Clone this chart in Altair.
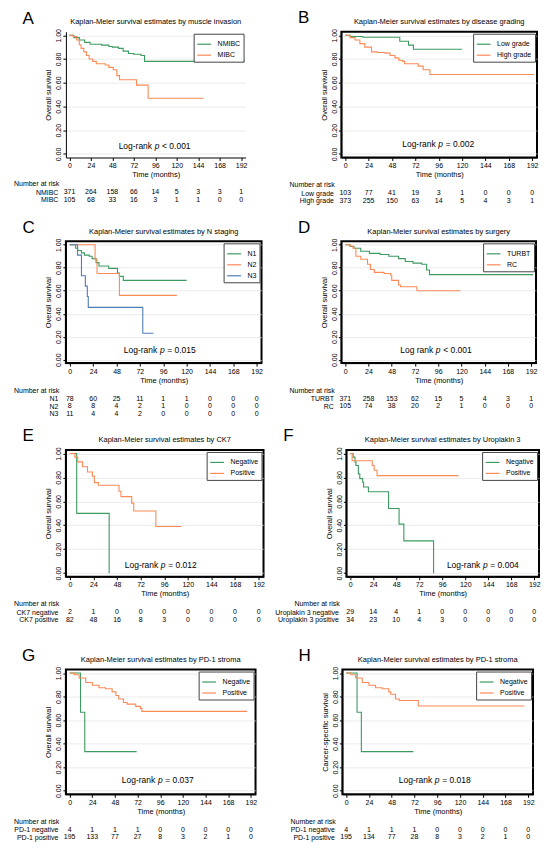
import altair as alt
import pandas as pd

FONT = "Liberation Sans"
GREEN = "#3d9a60"
ORANGE = "#fc8a57"
BLUE = "#4f7db6"
TICKS_X = [0, 24, 48, 72, 96, 120, 144, 168, 192]
TICKS_Y = [0.0, 0.2, 0.4, 0.6, 0.8, 1.0]

# ---------------- data ----------------
# A: muscle invasion
A_NMIBC_t = [0, 5, 11, 17, 23, 36, 44, 48, 55, 60, 66, 72, 80, 84, 196]
A_NMIBC_s = [1.0, 0.98, 0.96, 0.94, 0.925, 0.917, 0.905, 0.90, 0.89, 0.867, 0.847, 0.84, 0.83, 0.78, 0.78]
A_MIBC_t = [0, 4, 8, 11, 13, 16, 19, 22, 26, 30, 40, 44, 49, 53, 56, 75, 88, 150]
A_MIBC_s = [1.0, 0.99, 0.96, 0.92, 0.89, 0.86, 0.83, 0.80, 0.78, 0.76, 0.75, 0.73, 0.71, 0.66, 0.625, 0.58, 0.47, 0.47]
A_RISK_LABELS = ["NMIBC", "MIBC"]
A_RISK = [[371, 264, 158, 66, 14, 5, 3, 3, 1], [105, 68, 33, 16, 3, 1, 1, 0, 0]]

# B: disease grading
B_LOW_t = [0, 5, 18, 56, 65, 70, 120]
B_LOW_s = [1.0, 0.99, 0.983, 0.95, 0.917, 0.883, 0.883]
B_HIGH_t = [0, 5, 10, 15, 20, 27, 33, 41, 46, 51, 55, 59, 61, 75, 80, 87, 194]
B_HIGH_s = [1.0, 0.98, 0.96, 0.93, 0.90, 0.86, 0.855, 0.85, 0.83, 0.81, 0.79, 0.78, 0.76, 0.74, 0.71, 0.67, 0.67]
B_RISK_LABELS = ["Low grade", "High grade"]
B_RISK = [[103, 77, 41, 19, 3, 1, 0, 0, 0], [373, 255, 150, 63, 14, 5, 4, 3, 1]]

# C: N staging
C_N1_t = [0, 6, 8, 12, 15, 20, 23, 27, 30, 40, 49, 51, 55, 120]
C_N1_s = [1.0, 0.97, 0.95, 0.93, 0.91, 0.90, 0.88, 0.845, 0.815, 0.795, 0.755, 0.725, 0.69, 0.69]
C_N2_t = [0, 26, 28, 51, 110]
C_N2_s = [1.0, 0.875, 0.75, 0.56, 0.56]
C_N3_t = [0, 8, 12, 16, 18, 19, 75, 86]
C_N3_s = [1.0, 0.91, 0.73, 0.64, 0.55, 0.455, 0.23, 0.23]
C_RISK_LABELS = ["N1", "N2", "N3"]
C_RISK = [[78, 60, 25, 11, 1, 1, 0, 0, 0], [8, 8, 4, 2, 1, 0, 0, 0, 0], [11, 4, 4, 2, 0, 0, 0, 0, 0]]

# D: surgery
D_TURBT_t = [0, 5, 9, 16, 25, 36, 45, 55, 62, 70, 79, 84, 87, 194]
D_TURBT_s = [1.0, 0.985, 0.97, 0.944, 0.925, 0.916, 0.90, 0.88, 0.855, 0.84, 0.83, 0.78, 0.74, 0.74]
D_RC_t = [0, 5, 8, 11, 16, 23, 26, 30, 40, 47, 48, 55, 57, 74, 119]
D_RC_s = [1.0, 0.99, 0.97, 0.90, 0.874, 0.83, 0.785, 0.76, 0.75, 0.735, 0.69, 0.65, 0.635, 0.60, 0.60]
D_RISK_LABELS = ["TURBT", "RC"]
D_RISK = [[371, 258, 153, 62, 15, 5, 4, 3, 1], [105, 74, 38, 20, 2, 1, 0, 0, 0]]

# E: CK7
E_NEG_t = [0, 7, 40]
E_NEG_s = [1.0, 0.5, 0.0]
E_POS_t = [0, 5, 8, 13, 18, 23, 25, 29, 50, 52, 63, 65, 87.5, 113.5]
E_POS_s = [1.0, 0.97, 0.93, 0.89, 0.846, 0.81, 0.757, 0.735, 0.685, 0.64, 0.585, 0.52, 0.39, 0.39]
E_RISK_LABELS = ["CK7 negative", "CK7 positive"]
E_RISK = [[2, 1, 0, 0, 0, 0, 0, 0, 0], [82, 48, 16, 8, 3, 0, 0, 0, 0]]

# F: Uroplakin 3
F_NEG_t = [0, 3, 5, 6, 8.5, 10, 13, 14, 19, 40, 51, 56, 87]
F_NEG_s = [1.0, 0.97, 0.93, 0.90, 0.83, 0.79, 0.76, 0.72, 0.68, 0.54, 0.41, 0.27, 0.0]
F_POS_t = [0, 2, 23, 25, 28, 113]
F_POS_s = [1.0, 0.94, 0.90, 0.86, 0.815, 0.815]
F_RISK_LABELS = ["Uroplakin 3 negative", "Uroplakin 3 positive"]
F_RISK = [[29, 14, 4, 1, 0, 0, 0, 0, 0], [34, 23, 10, 4, 3, 0, 0, 0, 0]]

# G: PD-1 stroma (overall)
G_NEG_t = [0, 11.5, 16, 71]
G_NEG_s = [1.0, 0.667, 0.333, 0.333]
G_POS_t = [0, 5, 10, 17, 24, 31, 38, 45, 49, 52, 57, 61, 70, 75, 76.5, 188]
G_POS_s = [1.0, 0.986, 0.958, 0.92, 0.897, 0.875, 0.867, 0.84, 0.81, 0.78, 0.75, 0.736, 0.717, 0.70, 0.675, 0.675]
G_RISK_LABELS = ["PD-1 negative", "PD-1 positive"]
G_RISK = [[4, 1, 1, 1, 0, 0, 0, 0, 0], [195, 133, 77, 27, 8, 3, 2, 1, 0]]

# H: PD-1 stroma (cancer-specific)
H_NEG_t = [0, 11.5, 16, 71]
H_NEG_s = [1.0, 0.667, 0.333, 0.333]
H_POS_t = [0, 5, 10, 17, 24, 31, 38, 45, 47, 52, 56, 76, 188]
H_POS_s = [1.0, 0.986, 0.958, 0.92, 0.897, 0.875, 0.867, 0.84, 0.82, 0.78, 0.767, 0.72, 0.72]
H_RISK_LABELS = ["PD-1 negative", "PD-1 positive"]
H_RISK = [[4, 1, 1, 1, 0, 0, 0, 0, 0], [195, 134, 77, 28, 8, 3, 2, 1, 0]]


def km_panel(letter, title, names, colors, curves, risk_labels, risk, lr_word, lr_rest,
             lr_t, lr_s, ylab, width, height, framed):
    rows = []
    for name, (ts, ss) in zip(names, curves):
        for i, (t, s) in enumerate(zip(ts, ss)):
            rows.append({"group": name, "t": t, "s": s, "i": i})
    df = pd.DataFrame(rows)

    xenc = alt.X("t:Q", scale=alt.Scale(domain=[-4, 197], nice=False),
                 axis=alt.Axis(values=TICKS_X, title="Time (months)", grid=False))
    yenc = alt.Y("s:Q", scale=alt.Scale(domain=[-0.03, 1.03], nice=False),
                 axis=alt.Axis(values=TICKS_Y, format=".2f", title=ylab, labelAngle=270,
                               labelAlign="center", labelBaseline="bottom", grid=True))

    lines = alt.Chart(df).mark_line(interpolate="step-after", strokeWidth=1.1).encode(
        x=xenc, y=yenc,
        color=alt.Color("group:N", title=None,
                        scale=alt.Scale(domain=names, range=colors),
                        legend=alt.Legend(orient="top-right")),
        order="i:Q",
    )
    lr_df = pd.DataFrame([{"t": lr_t, "s": lr_s}])
    base = alt.Chart(lr_df).encode(x=xenc, y=yenc)
    t1 = base.mark_text(align="right", dx=-5, fontSize=8.5, font=FONT).encode(text=alt.value(lr_word))
    t2 = base.mark_text(align="center", fontSize=8.5, font=FONT, fontStyle="italic").encode(text=alt.value("p"))
    t3 = base.mark_text(align="left", dx=5, fontSize=8.5, font=FONT).encode(text=alt.value(lr_rest))

    view = alt.ViewBackground(stroke="black", strokeWidth=2) if framed else alt.ViewBackground(stroke="transparent")
    plot = alt.layer(lines, t1, t2, t3).properties(
        width=width, height=height, view=view,
        title=alt.TitleParams(title, fontSize=7.5, fontWeight="normal", anchor="middle", offset=3, font=FONT),
    )

    rrows = []
    for lab, counts in zip(risk_labels, risk):
        for t, c in zip(TICKS_X, counts):
            rrows.append({"label": lab, "t": t, "n": str(c)})
    rdf = pd.DataFrame(rrows)
    table = alt.Chart(rdf).mark_text(fontSize=7, font=FONT, baseline="middle").encode(
        x=alt.X("t:Q", scale=alt.Scale(domain=[-4, 197], nice=False), axis=None),
        y=alt.Y("label:N", sort=risk_labels,
                axis=alt.Axis(title=None, domain=False, ticks=False, grid=False,
                              labelFontSize=7, labelPadding=8)),
        text="n:N",
    ).properties(
        width=width, height=7.5 * len(risk_labels),
        view=alt.ViewBackground(stroke="transparent"),
        title=alt.TitleParams("Number at risk", anchor="start", frame="group", dx=-52,
                              fontSize=7, fontWeight="normal", offset=1, font=FONT),
    )

    panel = alt.vconcat(plot, table, spacing=1).resolve_scale(
        x="independent", y="independent", color="independent"
    ).properties(
        title=alt.TitleParams(letter, anchor="start", fontSize=17, fontWeight="normal",
                              font=FONT, dx=9, offset=-10)
    )
    return panel


pA = km_panel("A", "Kaplan-Meier survival estimates by muscle invasion", ["NMIBC", "MIBC"], [GREEN, ORANGE],
              [(A_NMIBC_t, A_NMIBC_s), (A_MIBC_t, A_MIBC_s)], A_RISK_LABELS, A_RISK,
              "Log-rank", "< 0.001", 98, 0.07, "Overall survival", 180, 126, False)
pB = km_panel("B", "Kaplan-Meier survival estimates by disease grading", ["Low grade", "High grade"], [GREEN, ORANGE],
              [(B_LOW_t, B_LOW_s), (B_HIGH_t, B_HIGH_s)], B_RISK_LABELS, B_RISK,
              "Log-rank", "= 0.002", 98, 0.08, "Overall survival", 196, 126, True)
pC = km_panel("C", "Kaplan-Meier survival estimates by N staging", ["N1", "N2", "N3"], [GREEN, ORANGE, BLUE],
              [(C_N1_t, C_N1_s), (C_N2_t, C_N2_s), (C_N3_t, C_N3_s)], C_RISK_LABELS, C_RISK,
              "Log-rank", "= 0.015", 95, 0.08, "Overall survival", 196, 122, True)
pD = km_panel("D", "Kaplan-Meier survival estimates by surgery", ["TURBT", "RC"], [GREEN, ORANGE],
              [(D_TURBT_t, D_TURBT_s), (D_RC_t, D_RC_s)], D_RISK_LABELS, D_RISK,
              "Log rank", "< 0.001", 96, 0.08, "Overall survival", 195, 122, True)
pE = km_panel("E", "Kaplan-Meier survival estimates by CK7", ["Negative", "Positive"], [GREEN, ORANGE],
              [(E_NEG_t, E_NEG_s), (E_POS_t, E_POS_s)], E_RISK_LABELS, E_RISK,
              "Log-rank", "= 0.012", 95, 0.07, "Overall survival", 198, 127, True)
pF = km_panel("F", "Kaplan-Meier survival estimates by Uroplakin 3", ["Negative", "Positive"], [GREEN, ORANGE],
              [(F_NEG_t, F_NEG_s), (F_POS_t, F_POS_s)], F_RISK_LABELS, F_RISK,
              "Log-rank", "= 0.004", 141, 0.07, "Overall survival", 193, 127, True)
pG = km_panel("G", "Kaplan-Meier survival estimates by PD-1 stroma", ["Negative", "Positive"], [GREEN, ORANGE],
              [(G_NEG_t, G_NEG_s), (G_POS_t, G_POS_s)], G_RISK_LABELS, G_RISK,
              "Log-rank", "= 0.037", 96, 0.09, "Overall survival", 190, 125, True)
pH = km_panel("H", "Kaplan-Meier survival estimates by PD-1 stroma", ["Negative", "Positive"], [GREEN, ORANGE],
              [(H_NEG_t, H_NEG_s), (H_POS_t, H_POS_s)], H_RISK_LABELS, H_RISK,
              "Log-rank", "= 0.018", 96, 0.09, "Cancer-specific survival", 191, 125, True)


def row(a, b, sp):
    return alt.hconcat(a, b, spacing=sp).resolve_scale(x="independent", y="independent", color="independent")


def stack(a, b, sp):
    return alt.vconcat(a, b, spacing=sp).resolve_scale(x="independent", y="independent", color="independent")


chart = stack(
    row(pA, pB, 41),
    stack(row(pC, pD, 25), stack(row(pE, pF, 8), row(pG, pH, 31), 22), 9),
    13,
).configure(
    font=FONT, padding={"left": 5, "top": 0, "right": 0, "bottom": 0}
).configure_axis(
    labelFont=FONT, titleFont=FONT, labelFontSize=7, titleFontSize=7.5,
    labelColor="black", titleColor="black", tickColor="black", domainColor="black",
    tickSize=3, gridColor="#dddddd", gridWidth=0.6, titlePadding=2, labelPadding=1,
    titleFontWeight="normal",
).configure_legend(
    offset=2, strokeColor="#444444", fillColor="white", padding=3, symbolType="stroke",
    symbolSize=190, symbolStrokeWidth=1.2, labelFontSize=7, labelFont=FONT, rowPadding=0,
    labelColor="black", labelOffset=6, cornerRadius=0,
).configure_title(color="black", font=FONT)

chart.save("out.html", embed_options={"renderer": "svg", "actions": False})
